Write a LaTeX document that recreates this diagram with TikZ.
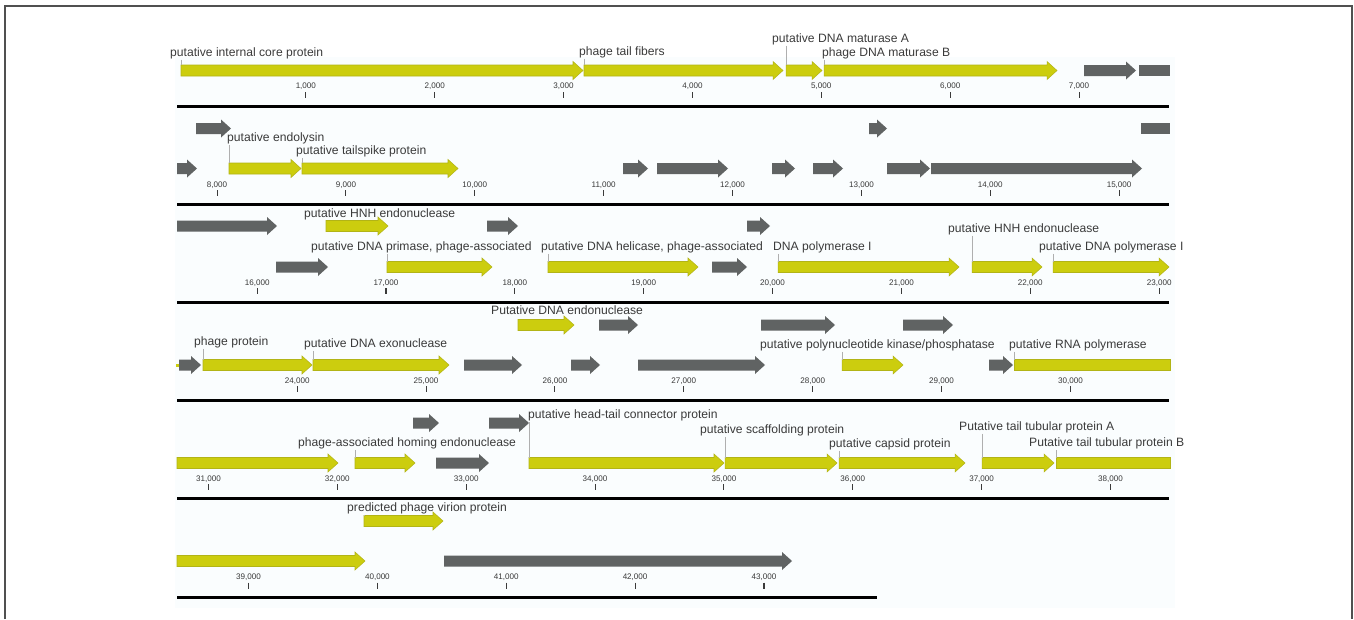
\documentclass[tikz,border=0pt]{standalone}
\usepackage{fontspec}
\setmainfont{Liberation Sans}
\usepackage{tikz}
\usetikzlibrary{positioning}
\usetikzlibrary{calc}

\definecolor{geneyellow}{RGB}{204,205,14}
\definecolor{geneyellowdark}{RGB}{178,180,22}
\definecolor{genegray}{RGB}{96,99,99}
\definecolor{labelgray}{RGB}{58,58,58}
\definecolor{leadergray}{RGB}{175,175,175}
\definecolor{panelbg}{RGB}{250,253,254}
\definecolor{framegray}{RGB}{80,80,80}

% flecha de gen: estilo, inicio, fin, centro y
\newcommand{\gene}[4]{\path[#1] (#2,#4-5.5) -- (#3-10,#4-5.5) -- (#3-10,#4-9) -- (#3,#4)
    -- (#3-10,#4+9) -- (#3-10,#4+5.5) -- (#2,#4+5.5) -- cycle;}
% gen cortado al final de la fila (sin punta)
\newcommand{\genecut}[4]{\path[#1] (#2,#4-5.5) rectangle (#3,#4+5.5);}

\begin{document}
\begin{tikzpicture}[
        x=0.02cm, y=-0.02cm,
        yel/.style={fill=geneyellow, draw=geneyellowdark, line width=0.3pt},
        gry/.style={fill=genegray},
        lbl/.style={anchor=base west, inner sep=0.5pt, text=labelgray,
            font=\fontsize{6.9}{8}\selectfont},
        ticklbl/.style={anchor=base, inner sep=0pt, text=labelgray,
            font=\fontsize{4.6}{5}\selectfont},
        tickmark/.style={draw=labelgray, line width=0.6pt},
        leader/.style={draw=leadergray, line width=0.4pt},
        axisline/.style={line width=1.7pt}
    ]

        \useasboundingbox (0,0) rectangle (1354,619);

        % Marco y fondo
        \draw[framegray, line width=1.2pt] (5,619) -- (5,6) -- (1352,6) -- (1352,619);
        \fill[panelbg] (175,57) rectangle (1175,608);

        % Ejes de cada fila
        \foreach \r/\xe in {0/1169,1/1169,2/1169,3/1169,4/1169,5/877}{
            \pgfmathsetmacro{\yb}{106.5+98.1*\r}
            \draw[axisline] (177,\yb) -- (\xe,\yb);
        }

        % Marcas de escala
        \foreach \r/\a/\b in {0/1/7,1/8/15,2/16/23,3/24/30,4/31/38,5/39/43}{
            \pgfmathsetmacro{\yb}{106.5+98.1*\r}
            \foreach \k in {\a,...,\b}{
                \pgfmathsetmacro{\xt}{177+(\k-7.689*\r)*128.86}
                \node[ticklbl] (tick\k) at (\xt,\yb-17.6) {\k,000};
                \draw[tickmark] (\xt,\yb-14.5) -- (\xt,\yb-8.5);
            }
        }

        % Fila 1
        \gene{yel}{181}{583}{70.5}
        \gene{yel}{584}{783}{70.5}
        \gene{yel}{786}{822}{70.5}
        \gene{yel}{824}{1057}{70.5}
        \gene{gry}{1084}{1136}{70.5}
        \genecut{gry}{1139}{1170}{70.5}

        \node[lbl] (core) at (169,56) {putative internal core protein};
        \node[lbl] (fibers) at (578,55) {phage tail fibers};
        \node[lbl] (matA) at (771,42) {putative DNA maturase A};
        \node[lbl] (matB) at (821,56) {phage DNA maturase B};
        \coordinate (g-core) at (181,65);
        \coordinate (g-fibers) at (584,65);
        \coordinate (g-matA) at (786,65);
        \coordinate (g-matB) at (824,65);
        \draw[leader] (core.south -| g-core) -- (g-core);
        \draw[leader] (fibers.south -| g-fibers) -- (g-fibers);
        \draw[leader] (matA.south -| g-matA) -- (g-matA);
        \draw[leader] (matB.south -| g-matB) -- (g-matB);

        % Fila 2
        \gene{gry}{196}{231}{128.5}
        \gene{gry}{869}{887}{128.5}
        \genecut{gry}{1141}{1170}{128.5}

        \gene{gry}{177}{197}{168.5}
        \gene{yel}{229}{301}{168.5}
        \gene{yel}{302}{458}{168.5}
        \gene{gry}{623}{648}{168.5}
        \gene{gry}{657}{728}{168.5}
        \gene{gry}{772}{795}{168.5}
        \gene{gry}{813}{843}{168.5}
        \gene{gry}{887}{930}{168.5}
        \gene{gry}{931}{1142}{168.5}

        \node[lbl] (endolysin) at (226,141) {putative endolysin};
        \node[lbl] (tailspike) at (295,154) {putative tailspike protein};
        \coordinate (g-endolysin) at (229,163);
        \coordinate (g-tailspike) at (302,163);
        \draw[leader] (endolysin.south -| g-endolysin) -- (g-endolysin);
        \draw[leader] (tailspike.south -| g-tailspike) -- (g-tailspike);

        % Fila 3
        \gene{gry}{177}{277}{226}
        \gene{yel}{326}{388}{226}
        \gene{gry}{487}{518}{226}
        \gene{gry}{747}{770}{226}

        \gene{gry}{276}{328}{267}
        \gene{yel}{387}{492}{267}
        \gene{yel}{548}{698}{267}
        \gene{gry}{712}{747}{267}
        \gene{yel}{778}{959}{267}
        \gene{yel}{972}{1042}{267}
        \gene{yel}{1053}{1169}{267}

        \node[lbl] (hnhA) at (303,217) {putative HNH endonuclease};
        \node[lbl] (primase) at (310,250) {putative DNA primase, phage-associated};
        \node[lbl] (helicase) at (540,250) {putative DNA helicase, phage-associated};
        \node[lbl] (polA) at (772,250) {DNA polymerase I};
        \node[lbl] (hnhB) at (947,232) {putative HNH endonuclease};
        \node[lbl] (polB) at (1038,250) {putative DNA polymerase I};
        \coordinate (g-primase) at (387,261.5);
        \coordinate (g-helicase) at (548,261.5);
        \coordinate (g-polA) at (778,261.5);
        \coordinate (g-hnhB) at (972,261.5);
        \coordinate (g-polB) at (1053,261.5);
        \draw[leader] (primase.south -| g-primase) -- (g-primase);
        \draw[leader] (helicase.south -| g-helicase) -- (g-helicase);
        \draw[leader] (polA.south -| g-polA) -- (g-polA);
        \draw[leader] (hnhB.south -| g-hnhB) -- (g-hnhB);
        \draw[leader] (polB.south -| g-polB) -- (g-polB);

        % Fila 4
        \gene{yel}{518}{574}{325}
        \gene{gry}{599}{638}{325}
        \gene{gry}{761}{835}{325}
        \gene{gry}{903}{953}{325}

        \fill[geneyellow] (175.5,363.5) rectangle (178.5,366.5);
        \gene{gry}{179}{201}{365}
        \gene{yel}{203}{312}{365}
        \gene{yel}{313}{449}{365}
        \gene{gry}{464}{522}{365}
        \gene{gry}{571}{600}{365}
        \gene{gry}{638}{765}{365}
        \gene{yel}{842}{903}{365}
        \gene{gry}{989}{1013}{365}
        \genecut{yel}{1014}{1170}{365}

        \node[lbl] (endonuc) at (490,314) {Putative DNA endonuclease};
        \node[lbl] (phageprot) at (193,345) {phage protein};
        \node[lbl] (exonuc) at (303,347) {putative DNA exonuclease};
        \node[lbl] (kinase) at (759,348) {putative polynucleotide kinase/phosphatase};
        \node[lbl] (rnapol) at (1008,348) {putative RNA polymerase};
        \coordinate (g-phageprot) at (203,359.5);
        \coordinate (g-exonuc) at (313,359.5);
        \coordinate (g-kinase) at (842,359.5);
        \coordinate (g-rnapol) at (1014,359.5);
        \draw[leader] (phageprot.south -| g-phageprot) -- (g-phageprot);
        \draw[leader] (exonuc.south -| g-exonuc) -- (g-exonuc);
        \draw[leader] (kinase.south -| g-kinase) -- (g-kinase);
        \draw[leader] (rnapol.south -| g-rnapol) -- (g-rnapol);

        % Fila 5
        \gene{gry}{413}{439}{423}
        \gene{gry}{489}{529}{423}

        \gene{yel}{177}{338}{463}
        \gene{yel}{355}{415}{463}
        \gene{gry}{436}{489}{463}
        \gene{yel}{529}{724}{463}
        \gene{yel}{725}{837}{463}
        \gene{yel}{839}{965}{463}
        \gene{yel}{982}{1054}{463}
        \genecut{yel}{1056}{1170}{463}

        \node[lbl] (headtail) at (527,418) {putative head-tail connector protein};
        \node[lbl] (homing) at (297,446) {phage-associated homing endonuclease};
        \node[lbl] (scaffold) at (699,433) {putative scaffolding protein};
        \node[lbl] (capsid) at (828,447) {putative capsid protein};
        \node[lbl] (tubA) at (958,430) {Putative tail tubular protein A};
        \node[lbl] (tubB) at (1028,446) {Putative tail tubular protein B};
        \coordinate (g-headtail) at (529,457.5);
        \coordinate (g-homing) at (355,457.5);
        \coordinate (g-scaffold) at (725,457.5);
        \coordinate (g-capsid) at (839,457.5);
        \coordinate (g-tubA) at (982,457.5);
        \coordinate (g-tubB) at (1056,457.5);
        \draw[leader] (headtail.south -| g-headtail) -- (g-headtail);
        \draw[leader] (homing.south -| g-homing) -- (g-homing);
        \draw[leader] (scaffold.south -| g-scaffold) -- (g-scaffold);
        \draw[leader] (capsid.south -| g-capsid) -- (g-capsid);
        \draw[leader] (tubA.south -| g-tubA) -- (g-tubA);
        \draw[leader] (tubB.south -| g-tubB) -- (g-tubB);

        % Fila 6
        \gene{yel}{364}{443}{521}
        \gene{yel}{177}{365}{561}
        \gene{gry}{444}{792}{561}

        \node[lbl] (virion) at (346,511) {predicted phage virion protein};
        \coordinate (g-virion) at (364,515.5);
        \draw[leader] (virion.south -| g-virion) -- (g-virion);

    \end{tikzpicture}
\end{document}
